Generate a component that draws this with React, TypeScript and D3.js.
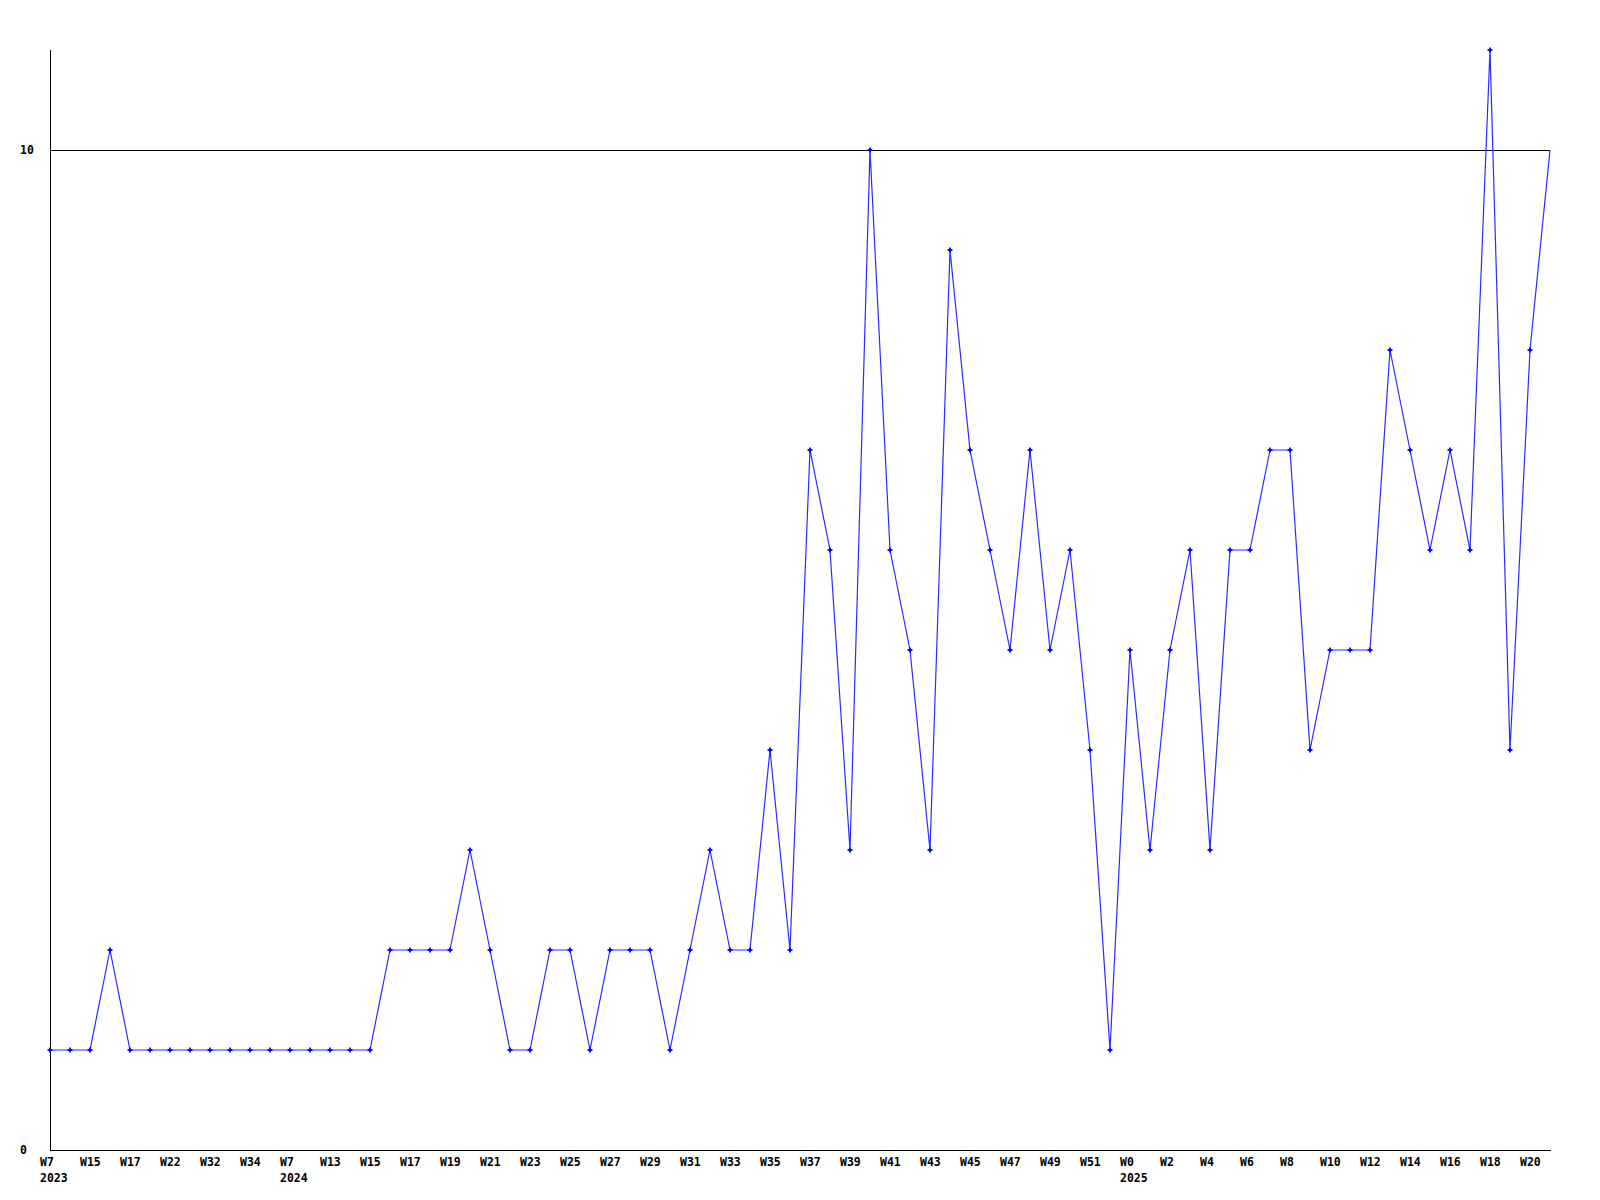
import React from "react";
import * as d3 from "d3";

const values: number[] = [
  1, 1, 1, 2, 1, 1, 1, 1, 1, 1, 1, 1, 1, 1, 1, 1, 1, 2, 2, 2,
  2, 3, 2, 1, 1, 2, 2, 1, 2, 2, 2, 1, 2, 3, 2, 2, 4, 2, 7, 6,
  3, 10, 6, 5, 3, 9, 7, 6, 5, 7, 5, 6, 4, 1, 5, 3, 5, 6, 3, 6,
  6, 7, 7, 4, 5, 5, 5, 8, 7, 6, 7, 6, 11, 4, 8, 10,
];

const weekLabels: string[] = [
  "W7", "W15", "W17", "W22", "W32", "W34", "W7", "W13", "W15", "W17",
  "W19", "W21", "W23", "W25", "W27", "W29", "W31", "W33", "W35", "W37",
  "W39", "W41", "W43", "W45", "W47", "W49", "W51", "W0", "W2", "W4",
  "W6", "W8", "W10", "W12", "W14", "W16", "W18", "W20",
];

const yearLabels: { index: number; year: string }[] = [
  { index: 0, year: "2023" },
  { index: 12, year: "2024" },
  { index: 54, year: "2025" },
];

const yTicks: number[] = [0, 10];

export default function App() {
  const x = d3.scaleLinear().domain([0, values.length - 1]).range([50, 1550]);
  const y = d3.scaleLinear().domain([0, 10]).range([1150, 150]);
  const line = d3
    .line<number>()
    .x((_, i) => x(i))
    .y((d) => y(d));
  const font = "'DejaVu Sans Mono', monospace";
  return (
    <svg
      width={1600}
      height={1200}
      style={{ position: "absolute", left: 0, top: 0, background: "#fff" }}
    >
      <rect x={0} y={0} width={1600} height={1200} fill="#fff" />
      <line
        x1={50}
        x2={1550}
        y1={y(10) + 0.5}
        y2={y(10) + 0.5}
        stroke="#000"
        strokeWidth={1}
        shapeRendering="crispEdges"
      />
      <line x1={50.5} x2={50.5} y1={50} y2={1150.5} stroke="#000" shapeRendering="crispEdges" />
      <line x1={50} x2={1551} y1={1150.5} y2={1150.5} stroke="#000" shapeRendering="crispEdges" />
      {yTicks.map((t) => (
        <text
          key={t}
          x={20}
          y={y(t) + 4}
          fontFamily={font}
          fontWeight="bold"
          fontSize={11.5}
          fill="#000"
        >
          {t}
        </text>
      ))}
      {weekLabels.map((l, k) => (
        <text
          key={k}
          x={x(k * 2) - 10}
          y={1166}
          fontFamily={font}
          fontWeight="bold"
          fontSize={11.5}
          fill="#000"
        >
          {l}
        </text>
      ))}
      {yearLabels.map((yl) => (
        <text
          key={yl.year}
          x={x(yl.index) - 10}
          y={1182}
          fontFamily={font}
          fontWeight="bold"
          fontSize={11.5}
          fill="#000"
        >
          {yl.year}
        </text>
      ))}
      <path d={line(values) || ""} fill="none" stroke="#2a2aff" strokeWidth={1.2} />
      {values.slice(0, values.length - 1).map((v, i) => (
        <g key={i} stroke="#0000ff" strokeWidth={1.8}>
          <line x1={x(i) - 2.5} x2={x(i) + 2.5} y1={y(v)} y2={y(v)} />
          <line x1={x(i)} x2={x(i)} y1={y(v) - 2.5} y2={y(v) + 2.5} />
        </g>
      ))}
    </svg>
  );
}
